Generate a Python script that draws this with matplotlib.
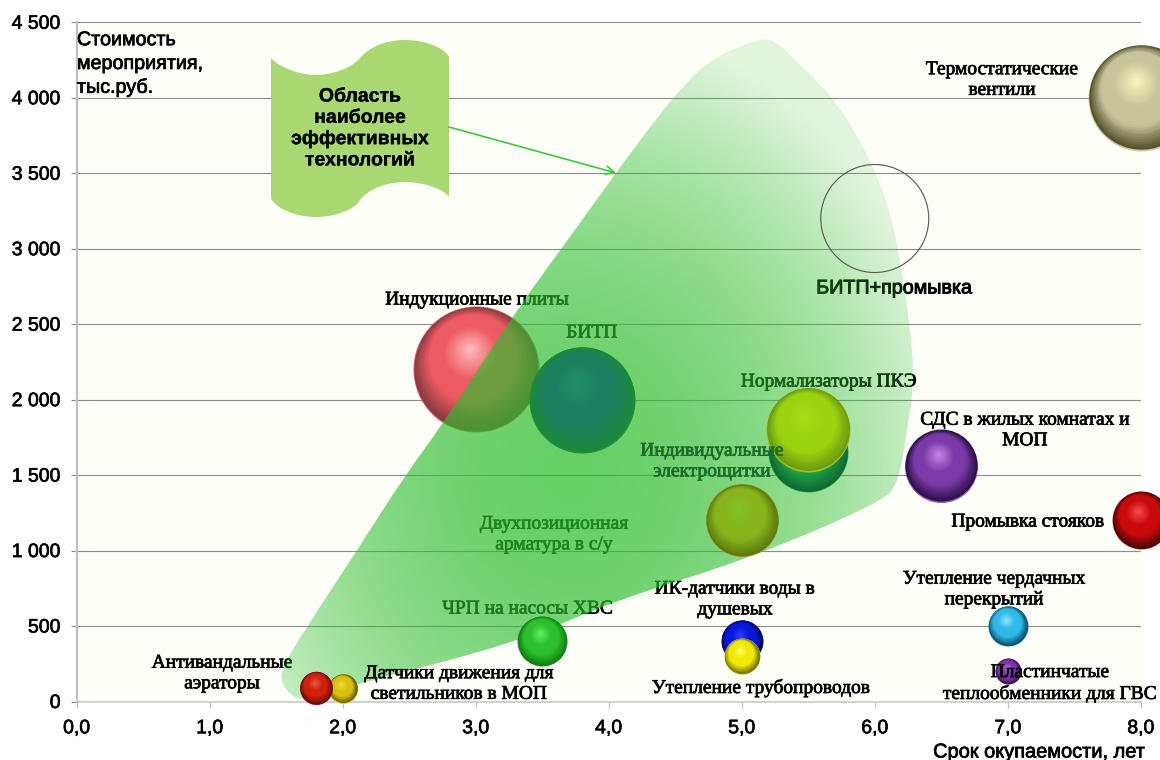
import numpy as np
import matplotlib
matplotlib.use("Agg")
import matplotlib.pyplot as plt
import matplotlib.patheffects as pe
from matplotlib.colors import to_rgb
from matplotlib.patches import PathPatch
from matplotlib.path import Path
from matplotlib.transforms import ScaledTranslation

# ---------- data ----------
names = ["Индукционные плиты", "БИТП", "Индивидуальные электрощитки", "Нормализаторы ПКЭ",
         "Двухпозиционная арматура в с/у", "СДС в жилых комнатах и МОП", "Промывка стояков",
         "Термостатические вентили", "ЧРП на насосы ХВС", "Датчики движения для светильников в МОП",
         "Антивандальные аэраторы", "ИК-датчики воды в душевых", "Утепление трубопроводов",
         "Утепление чердачных перекрытий", "Пластинчатые теплообменники для ГВС"]
payback = [3.0, 3.8, 5.5, 5.5, 5.0, 6.5, 8.0, 8.0, 3.5, 2.0, 1.8, 5.0, 5.0, 7.0, 7.0]
cost = [2200, 2000, 1650, 1800, 1200, 1560, 1200, 4000, 400, 85, 90, 400, 300, 500, 200]
bubble_size = [126, 106, 80, 84, 73, 73, 58, 106, 50, 29, 33, 42, 36, 40, 26]

empty_x = [6.0]
empty_y = [3200]
empty_size = [108]

region_x = [1.68, 1.93, 3.31, 4.06, 5.03, 6.04, 6.18, 6.24, 6.30, 6.26, 6.18, 6.09, 5.93, 5.70, 5.48,
            5.29, 5.18, 4.95, 4.75, 4.59, 4.39, 4.06, 3.79, 3.27, 2.76, 2.47, 2.11, 1.70, 1.52, 1.57]
region_y = [0, 76, 388, 673, 938, 1315, 1448, 1786, 2130, 2528, 2992, 3323, 3655, 3986, 4185,
            4350, 4400, 4331, 4238, 4105, 3900, 3509, 3178, 2548, 1846, 1501, 1004, 454, 189, 76]

x_ticks = [0, 1, 2, 3, 4, 5, 6, 7, 8]
x_tick_labels = ["0,0", "1,0", "2,0", "3,0", "4,0", "5,0", "6,0", "7,0", "8,0"]
y_ticks = [0, 500, 1000, 1500, 2000, 2500, 3000, 3500, 4000, 4500]
y_tick_labels = ["0", "500", "1 000", "1 500", "2 000", "2 500", "3 000", "3 500", "4 000", "4 500"]

# ---------- styles: dark, base, highlight, rim ----------
bubble_colors = [
    ("#8a3a40", "#ec5a62", "#ffc0c0", "#d06068"),
    ("#1a8a3a", "#1c8060", "#20906a", "#1f8f45"),
    ("#0f6a30", "#1fa04a", "#35b060", "#25b055"),
    ("#6f9a10", "#9ad410", "#a8dc18", "#a7c412"),
    ("#5f7a12", "#86b41a", "#7fc62a", "#b0a01a"),
    ("#2a1048", "#7a3ba8", "#c78be8", "#8a55b5"),
    ("#4a0505", "#c80a0a", "#ff5050", "#c03030"),
    ("#54532f", "#c5c49a", "#fff6c0", "#cfcea0"),
    ("#128012", "#2cc02c", "#66f066", "#3a9a3a"),
    ("#6a5a05", "#d8c010", "#f0e040", "#d8c820"),
    ("#601008", "#d0200a", "#e86050", "#e03020"),
    ("#020660", "#0818d8", "#3040ff", "#1020c0"),
    ("#707005", "#f0e808", "#ffff60", "#ffff40"),
    ("#0d5070", "#30b8e8", "#90e8ff", "#40b0d8"),
    ("#3a1060", "#7a35a5", "#b070d8", "#8050b0"),
]

W, H = 1160, 760
fig = plt.figure(figsize=(W / 100, H / 100), dpi=100, facecolor="white")
ax = fig.add_axes([76.6 / W, 1 - 701.5 / H, (1140.8 - 76.6) / W, (701.5 - 22.3) / H])
ax.set_facecolor("#FDFEF8")
ax.set_xlim(0, 8)
ax.set_ylim(0, 4500)
ax.set_xticks(x_ticks, x_tick_labels)
ax.set_yticks(y_ticks, y_tick_labels)
ax.grid(axis="y", color="#8c8c8c", lw=0.8, zorder=1)
ax.set_axisbelow(True)
for s in ("top", "right"):
    ax.spines[s].set_visible(False)
ax.spines["left"].set(color="#c0c0c0", lw=1.6)
ax.spines["bottom"].set(color="#c8c8c8", lw=1.2)
ax.tick_params(axis="x", length=4.5, width=0.9, color="#c0c0c0", pad=9)
ax.tick_params(axis="y", length=4.5, width=0.8, color="#8c8c8c", pad=7)
SANS = "Liberation Sans"
SERIF = "Liberation Serif"
stroke = [pe.withStroke(linewidth=0.45, foreground="black")]
for lab in ax.get_xticklabels() + ax.get_yticklabels():
    lab.set(fontfamily=SANS, fontsize=14, color="black", path_effects=stroke)


def fx(px):
    return px / W


def fy(py):
    return 1 - py / H


def sphere(x, y, d, colors, z):
    dark, base, hi, rim = [np.array(to_rgb(c)) for c in colors]
    r = d / 2 * 0.72  # radius in points (1 px = 0.72 pt at dpi 100)
    ax.scatter([x], [y], s=(2 * r) ** 2, color=[rim], linewidths=0, clip_on=False, zorder=z)
    N = 34
    for k in range(N):
        t = k / N
        if t < 0.28:
            col = dark + (base - dark) * (t / 0.28)
        elif t < 0.55:
            col = base
        else:
            col = base + (hi - base) * ((t - 0.55) / 0.45)
        rad = 0.985 * r * (1 - t)
        off = 0.62 * t if t < 0.4 else 0.248 + 0.14 * (t - 0.4)
        dx = -0.3 * r * off
        dy = 0.015 * r + 0.95 * r * off
        tr = ax.transData + ScaledTranslation(dx / 72, dy / 72, fig.dpi_scale_trans)
        ax.scatter([x], [y], s=(2 * rad) ** 2, color=[col], linewidths=0,
                   transform=tr, clip_on=False, zorder=z + 0.001 * (k + 1))


# bubble 0 sits under the green region, all others above it
for i in range(len(names)):
    sphere(payback[i], cost[i], bubble_size[i], bubble_colors[i], 2 if i == 0 else 4 + 0.05 * i)

# green region with soft fade; outline is a smooth curve through the read-off control points
pts = np.column_stack([region_x, region_y])
mids = (pts + np.roll(pts, -1, axis=0)) / 2
rv = [mids[-1]]
rc = [Path.MOVETO]
for p, m in zip(pts, mids):
    rv += [p, m]
    rc += [Path.CURVE3, Path.CURVE3]
region_path = Path(rv, rc)

gx, gy = np.meshgrid(np.linspace(1.4, 6.4, 260), np.linspace(0, 4500, 260))
dist = np.sqrt(((gx - 3.7) / 3.2) ** 2 + ((gy - 1500) / 3300) ** 2)
rgba = np.zeros(gx.shape + (4,))
rgba[..., :3] = to_rgb("#2ebd2e")
rgba[..., 3] = np.clip(0.72 - 0.7 * dist ** 2, 0.14, 0.72)
img = ax.imshow(rgba, extent=(1.4, 6.4, 0, 4500), origin="lower", aspect="auto",
                interpolation="bilinear", zorder=3)
img.set_clip_path(PathPatch(region_path, transform=ax.transData))
ax.set_xlim(0, 8)
ax.set_ylim(0, 4500)

# hollow bubble
ax.scatter(empty_x, empty_y, s=(empty_size[0] * 0.72) ** 2, facecolors="none",
           edgecolors="#555555", linewidths=0.8, zorder=4.9)


def label(px, py, s, z=2.5, color="black", fam=SERIF, size=14, weight="normal", ha="center", ls=1.28, sw=0.5):
    return ax.text(fx(px), fy(py), s, transform=fig.transFigure, ha=ha, va="center",
                   multialignment=ha, fontfamily=fam, fontsize=size, fontweight=weight,
                   color=color, linespacing=ls, zorder=z, clip_on=False,
                   path_effects=[pe.withStroke(linewidth=sw, foreground=color)])


# labels below the region get tinted by it
label(477, 300, "Индукционные плиты")
label(592, 333, "БИТП")
label(829, 382, "Нормализаторы ПКЭ")
label(554, 534.5, "Двухпозиционная\nарматура в с/у")
label(528, 609, "ЧРП на насосы ХВС")
label(894.5, 288, "БИТП+промывка", fam=SANS, size=14.2, sw=0.7)
label(1002, 80, "Термостатические\nвентили")
label(1025, 430.5, "СДС в жилых комнатах и\nМОП")
label(1028, 522, "Промывка стояков")
label(222, 673.5, "Антивандальные\nаэраторы")
label(735, 599.5, "ИК-датчики воды в\nдушевых")
label(761, 688, "Утепление трубопроводов")
# labels above the bubbles
label(712, 461.5, "Индивидуальные\nэлектрощитки", z=5, color="#1a6a2a")
label(459, 684, "Датчики движения для\nсветильников в МОП", z=5)
label(994, 589.5, "Утепление чердачных\nперекрытий", z=5)
label(1050, 683.5, "Пластинчатые\nтеплообменники для ГВС", z=5)

# axis captions
label(77, 63.5, "Стоимость\nмероприятия,\nтыс.руб.", z=5, fam=SANS, size=14.2, ha="left", ls=1.32)
label(1039, 752, "Срок окупаемости, лет", z=5, fam=SANS, size=14.4)


# scroll callout
def P(px, py):
    return (fx(px), fy(py))


verts = [P(271, 58),
         P(280, 68), P(300, 75), P(316, 75), P(332, 75), P(352, 68), P(360, 58),
         P(368, 48), P(385, 40), P(405, 40), P(425, 40), P(445, 48), P(449, 57),
         P(449, 197),
         P(445, 190), P(425, 182), P(405, 182), P(385, 182), P(368, 190), P(360, 200),
         P(357, 208), P(337, 217), P(316, 217), P(295, 217), P(275, 208), P(271, 198),
         P(271, 58)]
codes = [Path.MOVETO] + [Path.CURVE4] * 12 + [Path.LINETO] + [Path.CURVE4] * 12 + [Path.CLOSEPOLY]
ax.add_patch(PathPatch(Path(verts, codes), transform=fig.transFigure, facecolor="#A9D873",
                       edgecolor="none", zorder=2.2, clip_on=False))
label(360, 129, "Область\nнаиболее\nэффективных\nтехнологий", z=5, fam=SANS, size=14, weight="bold", ls=1.33, sw=0.2)

ax.annotate("", xy=P(616, 173), xytext=P(449, 127), xycoords="figure fraction", textcoords="figure fraction",
            arrowprops=dict(arrowstyle="->,head_length=0.6,head_width=0.3", color="#3CC83C", lw=1.2,
                            shrinkA=0, shrinkB=0), zorder=5)

fig.savefig("out.png", dpi=100)
